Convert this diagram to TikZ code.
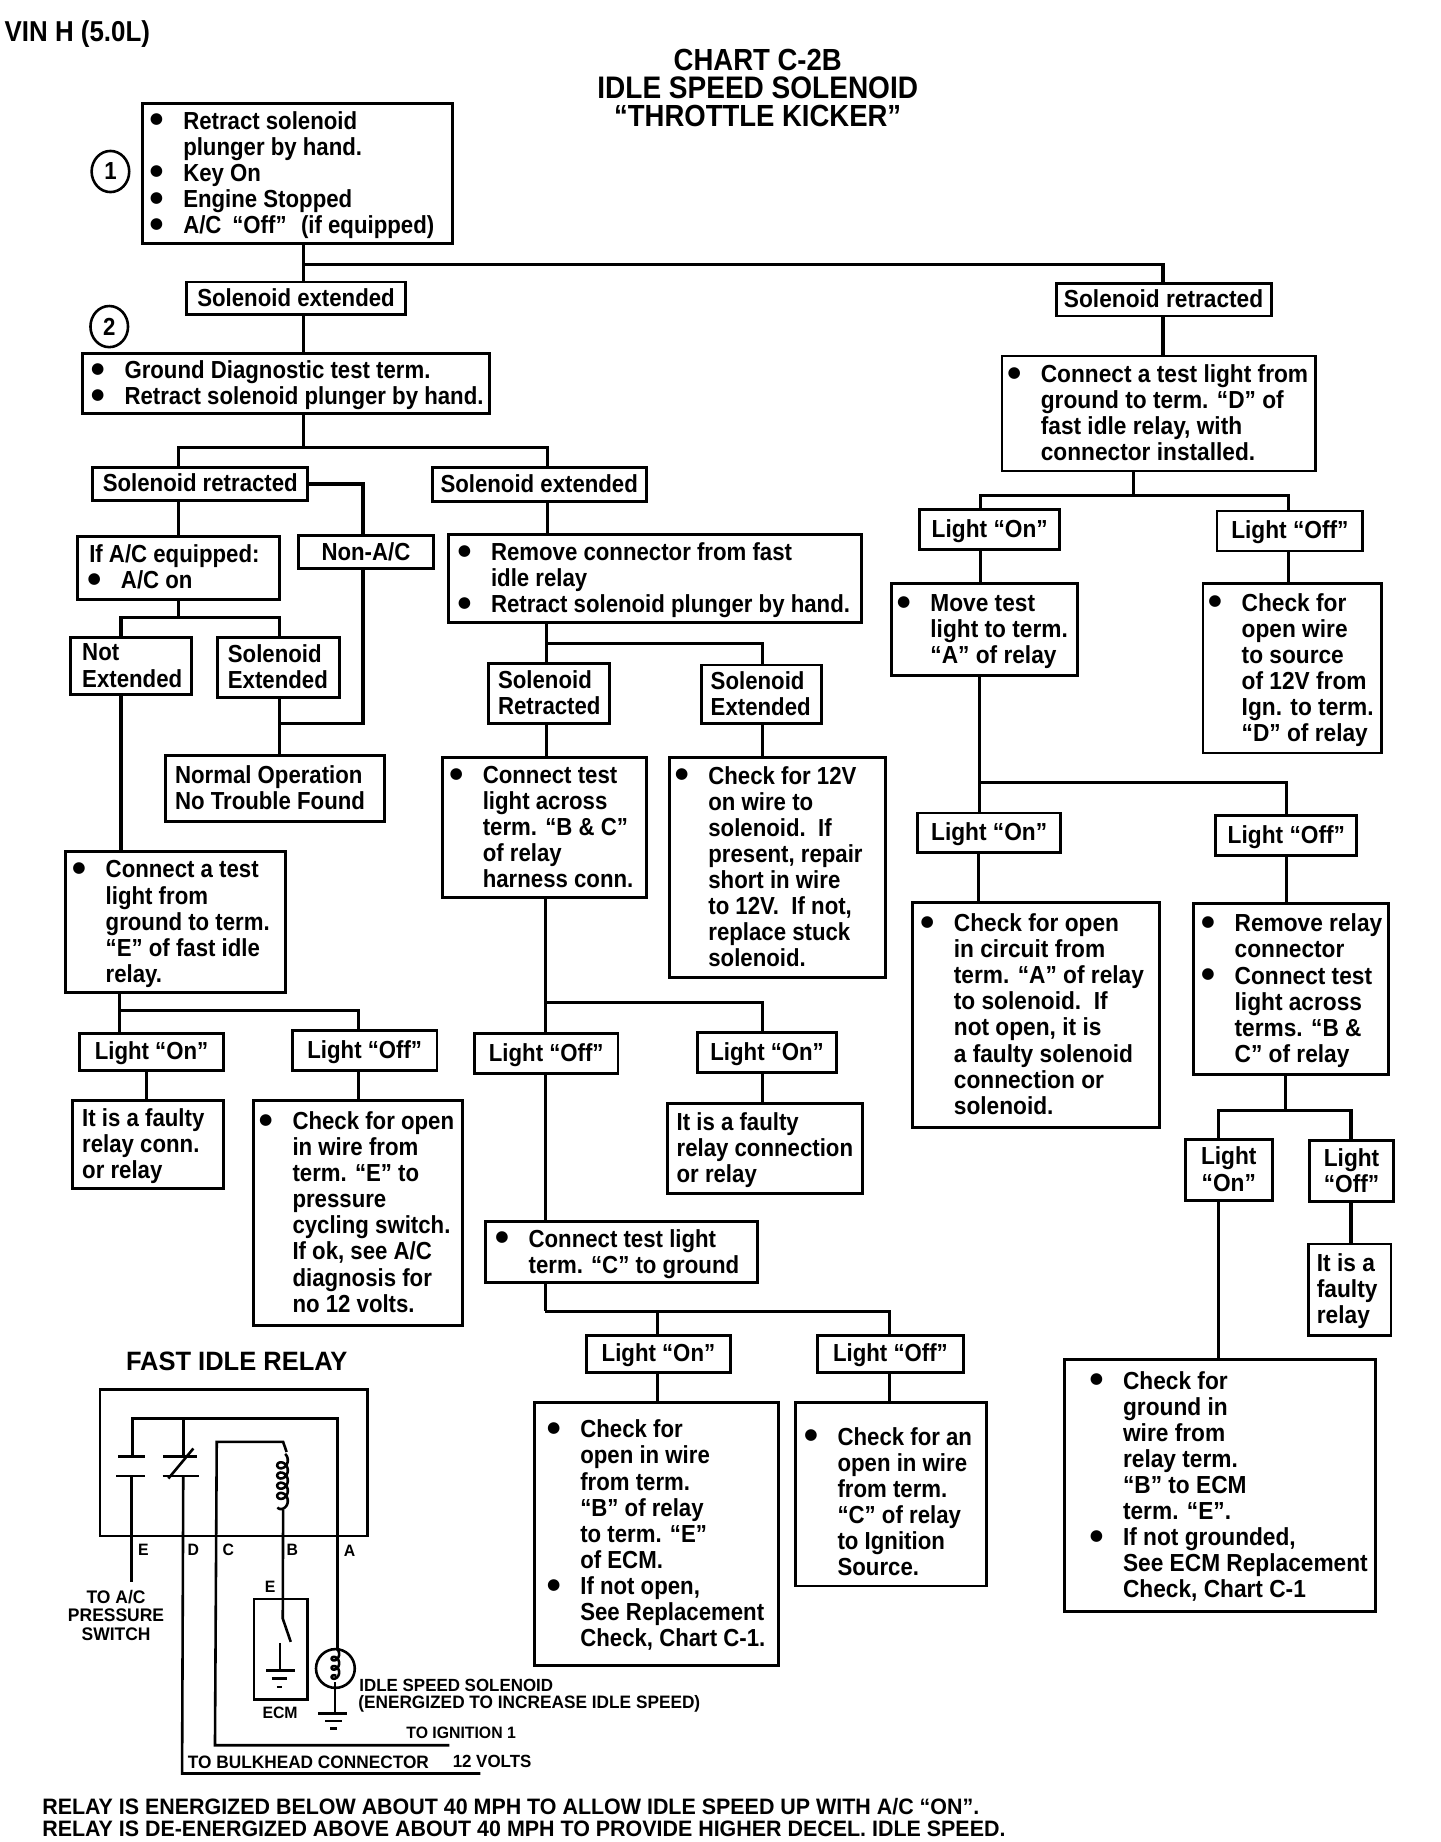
\documentclass[tikz,border=0pt]{standalone}
\usepackage{fontspec}
\usetikzlibrary{shapes.geometric}
\setmainfont{Liberation Sans}
\newfontfamily\famL{Liberation Sans}[FakeStretch=0.9]
\newfontfamily\famR{Liberation Sans}[FakeStretch=0.92]
\newfontfamily\famS{Liberation Sans}[FakeStretch=0.96]
\newfontfamily\bulfont{DejaVu Sans}
\newcommand\fL{\famL\bfseries\fontsize{21bp}{22.2bp}\selectfont}
\newcommand\fR{\famR\bfseries\fontsize{21bp}{22.2bp}\selectfont}
\newcommand\fS[1]{\famS\bfseries\fontsize{#1bp}{15.7bp}\selectfont}
\newcommand\bu{\makebox[0pt][r]{\raisebox{4.5bp}{\bulfont\fontsize{13bp}{13bp}\selectfont ●}\hspace{17bp}}}
\tikzset{
  flowbox/.style={draw=black,line width=2.4bp,fill=white,inner sep=0pt,outer sep=0pt,rectangle},
  conn/.style={draw=black,line width=2.6bp,line join=miter},
  wire/.style={draw=black,line width=2.2bp},
  lbl/.style={inner sep=0pt,outer sep=0pt,text=black,align=center},
}
\def\vsh{2}
% name x1 y1 x2 y2 textx content
\newcommand\bx[7]{%
  \node[flowbox,minimum width={(#4-#2)*1bp},minimum height={(#5-#3)*1bp}] (#1) at ({(#2+#4)/2},{(#3+#5)/2})
   {\makebox[\dimexpr#4bp-#2bp\relax][l]{\hspace*{\dimexpr#6bp-#2bp\relax}\curfont\raisebox{\dimexpr-\vsh bp-5.5pt\relax}[0pt][0pt]{\begin{tabular}{@{}l@{}}#7\end{tabular}}}};}
\newcommand\cbx[6]{%
  \node[flowbox,minimum width={(#4-#2)*1bp},minimum height={(#5-#3)*1bp}] (#1) at ({(#2+#4)/2},{(#3+#5)/2})
   {\curfont\raisebox{\dimexpr-\vsh bp-5.5pt\relax}[0pt][0pt]{\begin{tabular}{@{}c@{}}#6\end{tabular}}};}
\newcommand\vc[3]{\draw[conn] (#3,0 |- #1.south) -- (#3,0 |- #2.north);}
\let\curfont\fL
\begin{document}
\begin{tikzpicture}[x=1bp,y=-1bp]
\useasboundingbox (0,0) rectangle (1226,1568);
\fill[white] (0,0) rectangle (1226,1568);
% headings
\node[lbl,anchor=west] (vin) at (4,29) {\fL\fontsize{24.5bp}{25bp}\selectfont VIN H (5.0L)};
\node[lbl] (t1) at (645,51) {\fL\fontsize{26bp}{26bp}\selectfont CHART C-2B};
\node[lbl] (t2) at (645,75) {\fL\fontsize{26.5bp}{26bp}\selectfont IDLE SPEED SOLENOID};
\node[lbl] (t3) at (645,99) {\fL\fontsize{26bp}{26bp}\selectfont “THROTTLE KICKER”};
\node[draw=black,line width=2.2bp,ellipse,minimum width=32bp,minimum height=35bp,inner sep=0pt] (c1) at (94,146) {\fL 1};
\node[draw=black,line width=2.2bp,ellipse,minimum width=32bp,minimum height=35bp,inner sep=0pt] (c2) at (93,278) {\fL 2};
% left and middle boxes
\bx{b1}{121}{88}{385}{207}{156}{\bu Retract solenoid\\plunger by hand.\\\bu Key On\\\bu Engine Stopped\\\bu A/C\hspace{4bp} “Off”\hspace{7bp} (if equipped)}
\cbx{se1}{159}{240}{345}{268}{Solenoid extended}
\bx{b2}{70}{301}{417}{352}{106}{\bu Ground Diagnostic test term.\\\bu Retract solenoid plunger by hand.}
\cbx{sr2}{79}{398}{262}{426}{Solenoid retracted}
\cbx{se2}{368}{398}{550}{427}{Solenoid extended}
\bx{ifac}{66}{457}{238}{510}{76}{If A/C equipped:\\\hspace*{27bp}\bu A/C on}
\cbx{nonac}{254}{456}{369}{484}{Non-A/C}
\bx{rem}{382}{455}{733}{530}{418}{\bu Remove connector from fast\\idle relay\\\bu Retract solenoid plunger by hand.}
\bx{nex}{60}{543}{163}{591}{70}{Not\\Extended}
\bx{sex}{185}{543}{289}{594}{194}{Solenoid\\Extended}
\bx{sr3}{416}{565}{519}{616}{424}{Solenoid\\Retracted}
\bx{se3}{597}{566}{699}{616}{605}{Solenoid\\Extended}
\bx{norm}{141}{643}{327}{699}{149}{Normal Operation\\No Trouble Found}
\bx{ctl}{377}{645}{550}{764}{411}{\bu Connect test\\light across\\term. “B \& C”\\of relay\\harness conn.}
\bx{c12}{570}{645}{754}{832}{603}{\bu Check for 12V\\on wire to\\solenoid.\ \ If\\present, repair\\short in wire\\to 12V.\ \ If not,\\replace stuck\\solenoid.}
\bx{cat}{56}{725}{243}{845}{90}{\bu Connect a test\\light from\\ground to term.\\“E” of fast idle\\relay.}
\cbx{lon1}{68}{880}{190}{911}{Light “On”}
\cbx{lof1}{249}{877}{372}{911}{Light “Off”}
\cbx{lof2}{404}{880}{526}{914}{Light “Off”}
\cbx{lon2}{594}{879}{712}{913}{Light “On”}
\bx{fa1}{62}{937}{190}{1012}{70}{It is a faulty\\relay conn.\\or relay}
\bx{chk1}{216}{937}{394}{1128}{249}{\bu Check for open\\in wire from\\term. “E” to\\pressure\\cycling switch.\\If ok, see A/C\\diagnosis for\\no 12 volts.}
\bx{fa2}{568}{939}{734}{1016}{576}{It is a faulty\\relay connection\\or relay}
\bx{ctc}{413}{1040}{645}{1092}{450}{\bu Connect test light\\term. “C” to ground}
\cbx{lon3}{499}{1137}{622}{1168}{Light “On”}
\cbx{lof3}{696}{1137}{820}{1168}{Light “Off”}
\bx{chk2}{455}{1194}{663}{1418}{494}{\bu Check for\\open in wire\\from term.\\“B” of relay\\to term. “E”\\of ECM.\\\bu If not open,\\See Replacement\\Check, Chart C-1.}
\def\vsh{9}
\bx{chk3}{677}{1194}{840}{1350}{713}{\bu Check for an\\open in wire\\from term.\\“C” of relay\\to Ignition\\Source.}
\def\vsh{2}
% right column
\let\curfont\fR
\cbx{sr1}{899}{241}{1082}{269}{Solenoid retracted}
\bx{rc}{853}{303}{1120}{401}{886}{\bu Connect a test light from\\ground to term. “D” of\\fast idle relay, with\\connector installed.}
\cbx{rlon1}{783}{434}{902}{468}{Light “On”}
\cbx{rlof1}{1036}{435}{1160}{469}{Light “Off”}
\bx{mv}{759}{497}{917}{575}{792}{\bu Move test\\light to term.\\“A” of relay}
\bx{cko}{1024}{497}{1176}{641}{1057}{\bu Check for\\open wire\\to source\\of 12V from\\Ign. to term.\\“D” of relay}
\cbx{rlon2}{781}{692}{903}{726}{Light “On”}
\cbx{rlof2}{1035}{694}{1155}{728}{Light “Off”}
\bx{ckc}{777}{768}{987}{960}{812}{\bu Check for open\\in circuit from\\term. “A” of relay\\to solenoid.\ \ If\\not open, it is\\a faulty solenoid\\connection or\\solenoid.}
\bx{rmr}{1016}{769}{1182}{915}{1051}{\bu Remove relay\\connector\\\bu Connect test\\light across\\terms. “B \&\\C” of relay}
\cbx{rlon3}{1009}{970}{1083}{1022}{Light\\“On”}
\cbx{rlof3}{1115}{971}{1186}{1023}{Light\\“Off”}
\bx{fa3}{1114}{1059}{1184}{1137}{1121}{It is a\\faulty\\relay}
\bx{ckg}{906}{1157}{1171}{1372}{956}{\bu Check for\\ground in\\wire from\\relay term.\\“B” to ECM\\term. “E”.\\\bu If not grounded,\\See ECM Replacement\\Check, Chart C-1}
\let\curfont\fL
% junctions
\coordinate (j1) at (258,225);
\coordinate (j2) at (258,381);
\coordinate (j3) at (152,526);
\coordinate (j4) at (465,548);
\coordinate (j5) at (464,853);
\coordinate (j6) at (464,1116);
\coordinate (j7) at (102,860);
\coordinate (j8) at (965,422);
\coordinate (j9) at (835,666);
\coordinate (j10) at (1094,945);
\coordinate (j11) at (238,616);
% connectors
\vc{b1}{se1}{258}
\draw[conn] (j1) -| (990,0 |- sr1.north);
\vc{se1}{b2}{258}
\vc{sr1}{rc}{990}
\draw[conn] (258,0 |- b2.south) -- (j2);
\draw[conn] (152,0 |- sr2.north) |- (j2);
\draw[conn] (466,0 |- se2.north) |- (j2);
\draw[conn] (sr2.east) -| (309,0 |- nonac.north);
\vc{sr2}{ifac}{152}
\vc{se2}{rem}{466}
\draw[conn] (152,0 |- ifac.south) -- (j3);
\draw[conn] (103,0 |- nex.north) |- (j3);
\draw[conn] (238,0 |- sex.north) |- (j3);
\vc{nex}{cat}{103}
\vc{sex}{norm}{238}
\draw[conn] (309,0 |- nonac.south) |- (j11);
\draw[conn] (465,0 |- rem.south) -- (465,0 |- sr3.north);
\draw[conn] (j4) -| (649,0 |- se3.north);
\vc{sr3}{ctl}{465}
\vc{se3}{c12}{649}
\vc{ctl}{lof2}{464}
\draw[conn] (j5) -| (649,0 |- lon2.north);
\vc{lof2}{ctc}{464}
\vc{lon2}{fa2}{649}
\draw[conn] (464,0 |- ctc.south) -- (j6);
\draw[conn] (560,0 |- lon3.north) |- (j6);
\draw[conn] (757,0 |- lof3.north) |- (j6);
\vc{lon3}{chk2}{560}
\vc{lof3}{chk3}{757}
\vc{cat}{lon1}{102}
\draw[conn] (j7) -| (305,0 |- lof1.north);
\vc{lon1}{fa1}{125}
\vc{lof1}{chk1}{305}
\draw[conn] (965,0 |- rc.south) -- (j8);
\draw[conn] (835,0 |- rlon1.north) |- (j8);
\draw[conn] (1097,0 |- rlof1.north) |- (j8);
\vc{rlon1}{mv}{835}
\vc{rlof1}{cko}{1097}
\vc{mv}{rlon2}{834}
\draw[conn] (j9) -| (1095,0 |- rlof2.north);
\vc{rlon2}{ckc}{833}
\vc{rlof2}{rmr}{1095}
\draw[conn] (1094,0 |- rmr.south) -- (j10);
\draw[conn] (1037,0 |- rlon3.north) |- (j10);
\draw[conn] (1150,0 |- rlof3.north) |- (j10);
\vc{rlon3}{ckg}{1037}
\vc{rlof3}{fa3}{1150}
% relay schematic
\node[lbl] (frt) at (201.5,1159) {\fS{22.6}FAST IDLE RELAY};
\draw[wire] (85,1183) rectangle (313,1307.5);
\draw[wire] (112,1346.6) -- (112,1256.3);
\draw[wire] (99,1256.3) -- (123.5,1256.3);
\draw[wire] (100.7,1240) -- (123.5,1240);
\draw[wire] (113,1240) -- (113,1207.5) -- (287.2,1207.5) -- (287.2,1403.3);
\draw[wire] (156,1207.5) -- (156,1240);
\draw[wire] (139,1240) -- (167.4,1240);
\draw[wire] (138.5,1256.3) -- (169,1256.3);
\draw[wire] (143.3,1258.6) -- (164.6,1233);
\draw[wire] (156,1256.3) -- (155,1509.7) -- (409,1509.7);
\draw[wire] (244,1236) -- (241,1227.4) -- (184.5,1227.4) -- (183,1485.6) -- (382.6,1485.6);
\draw[wire] plot[smooth,domain=-60:1600,samples=120] ({240.5+4.5*cos(\x)},{1243+(\x/1660)*40+4.5*sin(\x)});
\draw[wire] (241,1285) -- (240.7,1377.8) -- (247.5,1397.6);
\draw[wire] (216.2,1361.3) rectangle (261.7,1446.7);
\draw[wire] (238.4,1398.5) -- (238.4,1421.8);
\draw[wire] (226.5,1421.8) -- (251.2,1421.8);
\draw[wire] (231.3,1429) -- (244,1429);
\draw[wire] (235.6,1436) -- (240,1436);
\node[draw=black,line width=2.2bp,circle,minimum size=33bp,inner sep=0pt] (sol) at (285.5,1420.3) {};
\draw[wire] plot[smooth,domain=-60:1000,samples=80] ({285.5+3.2*cos(\x)},{1408+(\x/1060)*23+3.2*sin(\x)});
\draw[wire] (285,1432) -- (285,1458.7);
\draw[wire] (271,1458.7) -- (295,1458.7);
\draw[wire] (276.7,1465) -- (291,1465);
\draw[wire] (281,1471.4) -- (287,1471.4);
\node[lbl] (te) at (122,1319) {\fS{14}E};
\node[lbl] (td) at (164.6,1319) {\fS{14}D};
\node[lbl] (tc) at (194.4,1319) {\fS{14}C};
\node[lbl] (tb) at (248.9,1319) {\fS{14}B};
\node[lbl] (ta) at (297.5,1320) {\fS{14}A};
\node[lbl] (te2) at (229.9,1351) {\fS{14}E};
\node[lbl] (ecm) at (238.4,1458) {\fS{14}ECM};
\node[lbl,font=\fS{15.5}] (toac) at (98.8,1375) {TO A/C\\PRESSURE\\SWITCH};
\node[lbl,anchor=west] (iss1) at (306,1434.5) {\fS{15}IDLE SPEED SOLENOID};
\node[lbl,anchor=west] (iss2) at (305,1450) {\fS{15.3}(ENERGIZED TO INCREASE IDLE SPEED)};
\node[lbl,anchor=west] (ign) at (346,1475) {\fS{14}TO IGNITION 1};
\node[lbl,anchor=west] (bulk) at (160,1499.8) {\fS{15.3}TO BULKHEAD CONNECTOR};
\node[lbl,anchor=west] (volt) at (385.4,1499.8) {\fS{15}12 VOLTS};
\node[lbl,anchor=west] (n1) at (36,1538) {\fS{19}RELAY IS ENERGIZED BELOW ABOUT 40 MPH TO ALLOW IDLE SPEED UP WITH A/C “ON”.};
\node[lbl,anchor=west] (n2) at (36,1557) {\fS{19}RELAY IS DE-ENERGIZED ABOVE ABOUT 40 MPH TO PROVIDE HIGHER DECEL. IDLE SPEED.};
\end{tikzpicture}
\end{document}
